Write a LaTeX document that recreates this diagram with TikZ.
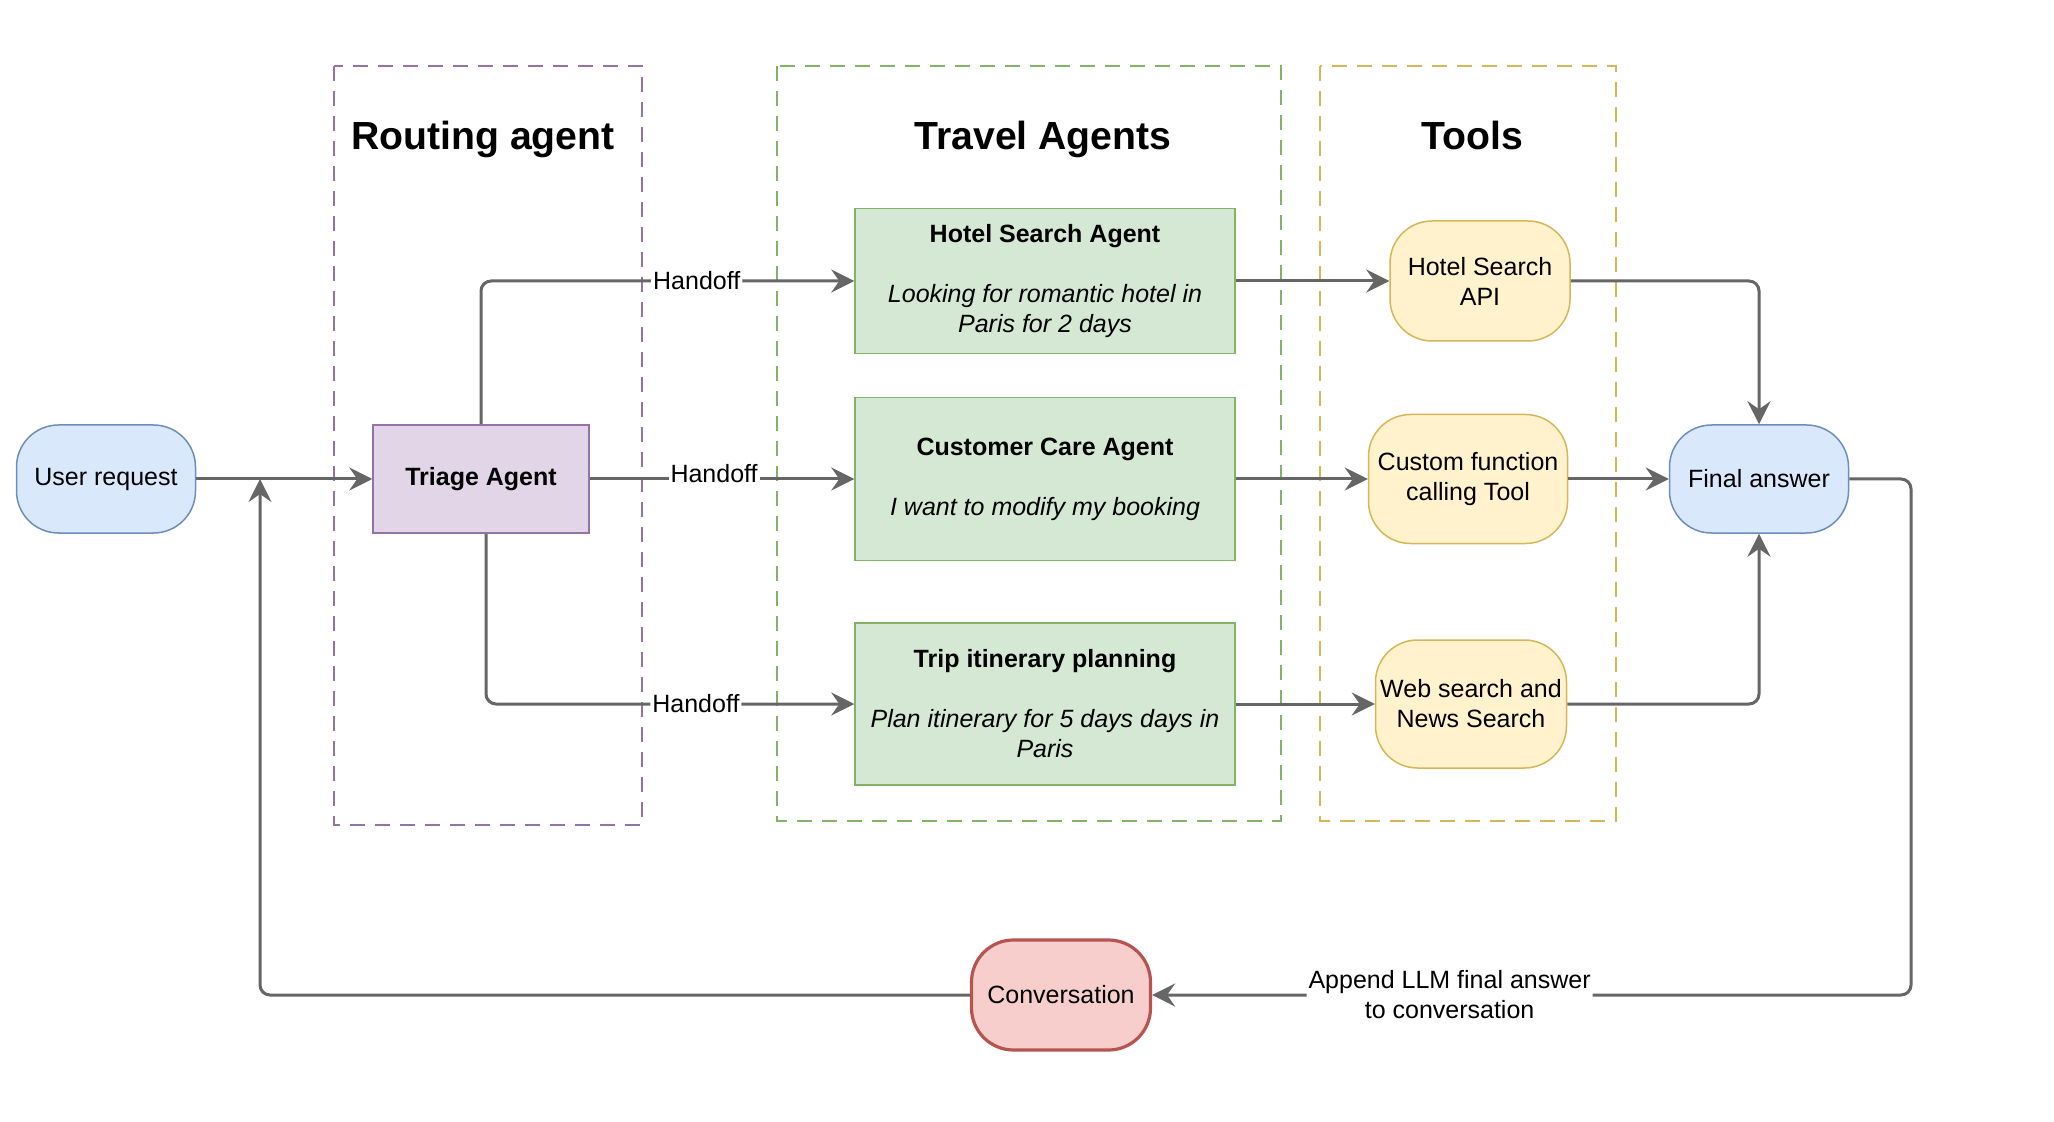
\documentclass[tikz,border=0pt]{standalone}
\usepackage[usenames,dvipsnames]{xcolor}
\usepackage{fontspec}
\setmainfont{Liberation Sans}
\usepackage{tikz}
\usetikzlibrary{arrows.meta}

\definecolor{userfill}{HTML}{DAE8FC}
\definecolor{userline}{HTML}{6C8EBF}
\definecolor{routefill}{HTML}{E1D5E7}
\definecolor{routeline}{HTML}{9673A6}
\definecolor{agentfill}{HTML}{D5E8D4}
\definecolor{agentline}{HTML}{82B366}
\definecolor{toolfill}{HTML}{FFF2CC}
\definecolor{toolline}{HTML}{D6B656}
\definecolor{convfill}{HTML}{F8CECC}
\definecolor{convline}{HTML}{B85450}
\definecolor{flowgray}{HTML}{666666}

\begin{document}
\begin{tikzpicture}[x=0.5pt, y=-0.5pt, font=\fontsize{12.5}{15}\selectfont]
	\useasboundingbox (0,0) rectangle (2054,1122);
	\begin{scope}[dash pattern=on 7.5pt off 5pt, line width=0.65pt]
		\draw[routeline] (334,66) rectangle (642,825);
		\draw[agentline] (777,66) rectangle (1281,821);
		\draw[toolline] (1320,66) rectangle (1616,821);
	\end{scope}
	\begin{scope}[every node/.style={anchor=base, font=\bfseries\fontsize{19.6}{23}\selectfont}]
		\node (routingT) at (483,150) {Routing agent};
		\node (travelT) at (1043,150) {Travel Agents};
		\node (toolsT) at (1472,150) {Tools};
	\end{scope}
	\begin{scope}[every node/.style={draw, line width=0.75pt, align=center, inner sep=0pt},
		pill/.style={rounded corners=21pt, minimum width=89.5pt, minimum height=54pt},
		agent/.style={fill=agentfill, draw=agentline, minimum width=190pt},
		tool/.style={rounded corners=21pt, fill=toolfill, draw=toolline}]
		\node[pill, fill=userfill, draw=userline] (user) at (106,479) {User request};
		\node[fill=routefill, draw=routeline, minimum width=108pt, minimum height=54pt]
			(triage) at (481,479) {\textbf{Triage Agent}};
		\node[agent, minimum height=72.5pt] (hotel) at (1045,281)
			{\textbf{Hotel Search Agent}\\[15pt]\textit{Looking for romantic hotel in}\\\textit{Paris for 2 days}};
		\node[agent, minimum height=81.5pt] (care) at (1045,479)
			{\textbf{Customer Care Agent}\\[15pt]\textit{I want to modify my booking}};
		\node[agent, minimum height=81pt] (trip) at (1045,704)
			{\textbf{Trip itinerary planning}\\[15pt]\textit{Plan itinerary for 5 days days in}\\\textit{Paris}};
		\node[tool, minimum width=90pt, minimum height=60pt] (api) at (1480,281) {Hotel Search\\API};
		\node[tool, minimum width=99.5pt, minimum height=64.5pt] (custom) at (1468,479) {Custom function\\calling Tool};
		\node[tool, minimum width=95.5pt, minimum height=64pt] (web) at (1471,704) {Web search and\\News Search};
		\node[pill, fill=userfill, draw=userline] (final) at (1759,479) {Final answer};
		\node[pill, fill=convfill, draw=convline, line width=1.6pt, minimum height=55pt] (conv) at (1061,995) {Conversation};
	\end{scope}
	\coordinate (retup) at (260,479);
	\coordinate (retright) at (1911,995);
	\begin{scope}[>={Stealth[length=11.5pt, width=11.5pt, inset=4pt]},
			every edge/.style={draw=flowgray, line width=1.5pt},
			flow/.style={draw=flowgray, line width=1.5pt, rounded corners=5pt},
			lbl/.style={fill=white, inner sep=1pt, align=center}]
		\path [->] (user) edge (triage);
		\path [->] (triage) edge node[lbl, pos=0.47, yshift=2.5pt] {Handoff} (care);
		\draw [flow, ->] (triage.north) |- node[lbl, pos=0.789] {Handoff} (hotel.west);
		\draw [flow, ->] ([xshift=2.5pt]triage.south) |- node[lbl, pos=0.785] {Handoff} (trip.west);
		\path [->] (hotel) edge (api);
		\path [->] (care) edge (custom);
		\path [->] (trip) edge (web);
		\path [->] (custom) edge (final);
		\draw [flow, ->] (api.east) -| (final.north);
		\draw [flow, ->] (web.east) -| (final.south);
		\draw [flow, ->] (final.east) -| (retright) -- node[lbl, pos=0.608]
			{Append LLM final answer\\to conversation} (conv.east);
		\draw [flow, ->] (conv.west) -| (retup);
	\end{scope}
\end{tikzpicture}
\end{document}
